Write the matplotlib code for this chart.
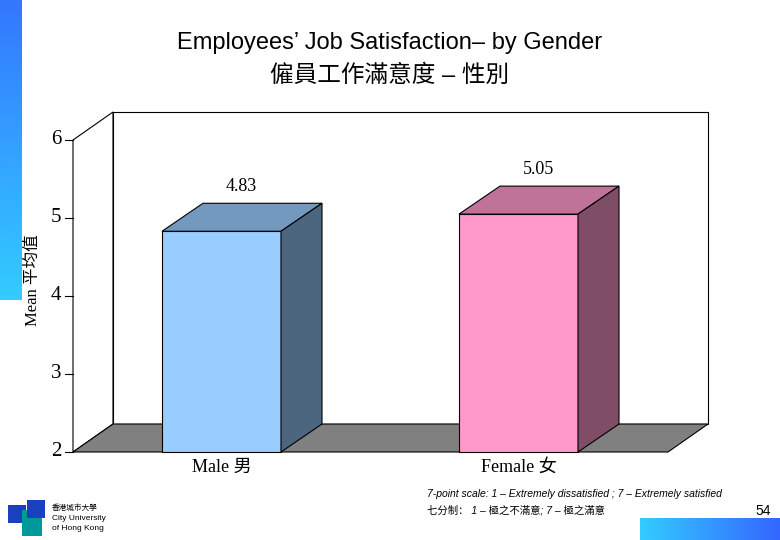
import numpy as np
import matplotlib
matplotlib.use('Agg')
import matplotlib.pyplot as plt
from matplotlib.patches import Polygon, Rectangle

categories = ['Male 男', 'Female 女']
means = [4.83, 5.05]
yticks = [2, 3, 4, 5, 6]
front_cols = ['#99ccff', '#ff99cc']
top_cols = ['#7399bf', '#bf7399']
side_cols = ['#4d6680', '#804d66']

W, H = 780, 540
fig = plt.figure(figsize=(W / 100, H / 100), dpi=100)
ax = fig.add_axes([0, 0, 1, 1])
ax.set_xlim(0, W)
ax.set_ylim(H, 0)
ax.axis('off')

serif = ['Liberation Serif', 'Noto Sans CJK SC']
sans = ['Liberation Sans', 'Noto Sans CJK SC']

# value -> pixel
y0, ppu = 452, 78
def py(v):
    return y0 - (v - 2) * ppu

x_left, x_right = 73, 668
dx, dy = 40, -28

# walls
ax.add_patch(Polygon([(x_left, py(2)), (x_left, py(6)), (x_left + dx, py(6) + dy), (x_left + dx, py(2) + dy)],
                     closed=True, fc='white', ec='black', lw=0.8))
ax.add_patch(Polygon([(x_left + dx, py(2) + dy), (x_left + dx, py(6) + dy), (x_right + dx, py(6) + dy), (x_right + dx, py(2) + dy)],
                     closed=True, fc='white', ec='black', lw=0.8))
ax.add_patch(Polygon([(x_left, py(2)), (x_right, py(2)), (x_right + dx, py(2) + dy), (x_left + dx, py(2) + dy)],
                     closed=True, fc='#808080', ec='black', lw=0.8))

for t in yticks:
    ax.plot([x_left - 8, x_left], [py(t), py(t)], color='black', lw=0.8)
    ax.text(x_left - 12, py(t), str(t), ha='right', va='center', fontsize=15, family=serif)
ax.text(33, py(4.2), 'Mean 平均值', rotation=90, ha='center', va='center', fontsize=12, family=serif)

bar_x = [162, 459]
bw = 119
for i, (cat, m) in enumerate(zip(categories, means)):
    x = bar_x[i]
    top = py(m)
    ax.add_patch(Polygon([(x, py(2)), (x + bw, py(2)), (x + bw, top), (x, top)], fc=front_cols[i], ec='black', lw=0.8))
    ax.add_patch(Polygon([(x, top), (x + bw, top), (x + bw + dx + 1, top + dy), (x + dx + 1, top + dy)],
                         fc=top_cols[i], ec='black', lw=0.8))
    ax.add_patch(Polygon([(x + bw, py(2)), (x + bw, top), (x + bw + dx + 1, top + dy), (x + bw + dx + 1, py(2) + dy)],
                         fc=side_cols[i], ec='black', lw=0.8))
    ax.text(x + bw / 2 + 20, top + dy - 8, f'{m:.2f}', ha='center', va='bottom', fontsize=13, family=serif)
    ax.text(x + bw / 2, 467, cat, ha='center', va='center', fontsize=13, family=serif)

ax.text(390, 43, 'Employees’ Job Satisfaction– by Gender', ha='center', va='center', fontsize=17, family=sans)
ax.text(390, 76, '僱員工作滿意度 – 性別', ha='center', va='center', fontsize=17, family=sans)

ax.text(427, 494, '7-point scale: 1 – Extremely dissatisfied ; 7 – Extremely satisfied',
        ha='left', va='center', fontsize=7.5, style='italic', family=sans)
ax.text(427, 510, '七分制： 1 – 極之不滿意; 7 – 極之滿意', ha='left', va='center', fontsize=7.5, style='italic', family=sans)
ax.text(763, 511, '54', ha='center', va='center', fontsize=10, family=sans)

# decorative gradients
grad = np.linspace(0, 1, 256)
ax.imshow(grad[:, None], extent=[0, 22, 300, 0], cmap=matplotlib.colors.LinearSegmentedColormap.from_list('g', ['#3377ff', '#33ccff']), aspect='auto')
ax.imshow(grad[None, :], extent=[640, 780, 540, 518], cmap=matplotlib.colors.LinearSegmentedColormap.from_list('g2', ['#33ccff', '#3366ff']), aspect='auto')

# logo
ax.add_patch(Rectangle((8, 505), 18, 18, fc='#1a3fbf'))
ax.add_patch(Rectangle((22, 510), 20, 26, fc='#009999'))
ax.add_patch(Rectangle((27, 500), 18, 18, fc='#1a3fbf'))
ax.text(52, 508, '香港城市大學', fontsize=5.5, family=sans, va='center')
ax.text(52, 519, 'City University', fontsize=6, family=sans, va='center')
ax.text(52, 529, 'of Hong Kong', fontsize=6, family=sans, va='center')

ax.set_xlim(0, W)
ax.set_ylim(H, 0)
fig.savefig('out.png', dpi=100)
